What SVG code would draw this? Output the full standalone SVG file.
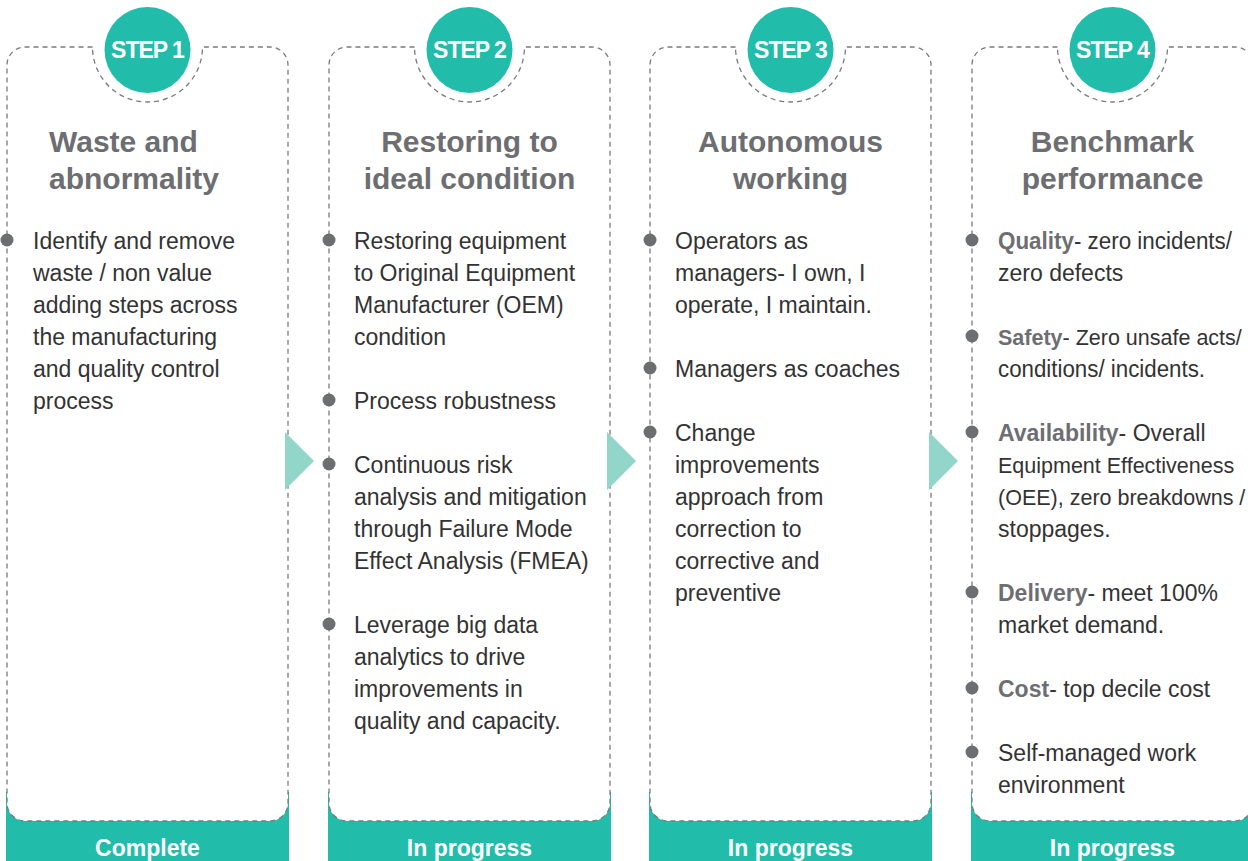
<svg xmlns="http://www.w3.org/2000/svg" width="1248" height="861" viewBox="0 0 1248 861">
<style>
.card{fill:#fff;stroke:#7a7a7c;stroke-width:1.3;stroke-dasharray:5 4}
.band{fill:#22bcaa}
.circ{fill:#22bcaa}
.step{font-family:"Liberation Sans",Arial,sans-serif;font-weight:bold;font-size:23px;fill:#fff;text-anchor:middle;letter-spacing:-1px}
.title{font-family:"Liberation Sans",Arial,sans-serif;font-weight:bold;font-size:30px;fill:#6d6e71}
.mid{text-anchor:middle}
.body{font-family:"Liberation Sans",Arial,sans-serif;font-size:23px;fill:#333}
.sm{font-size:21.5px}
.b{font-weight:bold;fill:#6d6e71}
.dot{fill:#6d6e71}
.status{font-family:"Liberation Sans",Arial,sans-serif;font-weight:bold;font-size:23px;fill:#fff;text-anchor:middle}
.arrow{fill:#92d5c9}
</style>
<rect width="1248" height="861" fill="#fff"/>

<g id="step1">
<rect class="band" x="6" y="792" width="283" height="69"/>
<path class="card" d="M92.5,47 H25 A18,18 0 0 0 7,65 V803 A18,18 0 0 0 25,821 H270 A18,18 0 0 0 288,803 V65 A18,18 0 0 0 270,47 H202.5 A55,55 0 1 1 92.5,47 Z"/>
<circle class="circ" cx="147.5" cy="50" r="43"/>
<text class="step" x="147.5" y="58">STEP 1</text>
<text class="title" x="49" y="152">Waste and</text>
<text class="title" x="49" y="189">abnormality</text>
<circle class="dot" cx="7" cy="240" r="6.5"/>
<text class="body"><tspan x="33" y="248.5">Identify and remove</tspan><tspan x="33" y="280.5">waste / non value</tspan><tspan x="33" y="312.5">adding steps across</tspan><tspan x="33" y="344.5">the manufacturing</tspan><tspan x="33" y="376.5">and quality control</tspan><tspan x="33" y="408.5">process</tspan></text>
<text class="status" x="147.5" y="856">Complete</text>
</g>

<g id="step2">
<rect class="band" x="328" y="792" width="283" height="69"/>
<path class="card" d="M414.5,47 H347 A18,18 0 0 0 329,65 V803 A18,18 0 0 0 347,821 H592 A18,18 0 0 0 610,803 V65 A18,18 0 0 0 592,47 H524.5 A55,55 0 1 1 414.5,47 Z"/>
<circle class="circ" cx="469.5" cy="50" r="43"/>
<text class="step" x="469.5" y="58">STEP 2</text>
<text class="title mid" x="469.5" y="152">Restoring to</text>
<text class="title mid" x="469.5" y="189">ideal condition</text>
<circle class="dot" cx="329" cy="240" r="6.5"/>
<circle class="dot" cx="329" cy="400" r="6.5"/>
<circle class="dot" cx="329" cy="464" r="6.5"/>
<circle class="dot" cx="329" cy="624" r="6.5"/>
<text class="body"><tspan x="354" y="248.5">Restoring equipment</tspan><tspan x="354" y="280.5">to Original Equipment</tspan><tspan x="354" y="312.5">Manufacturer (OEM)</tspan><tspan x="354" y="344.5">condition</tspan></text>
<text class="body"><tspan x="354" y="408.5">Process robustness</tspan></text>
<text class="body"><tspan x="354" y="472.5">Continuous risk</tspan><tspan x="354" y="504.5">analysis and mitigation</tspan><tspan x="354" y="536.5">through Failure Mode</tspan><tspan x="354" y="568.5">Effect Analysis (FMEA)</tspan></text>
<text class="body"><tspan x="354" y="632.5">Leverage big data</tspan><tspan x="354" y="664.5">analytics to drive</tspan><tspan x="354" y="696.5">improvements in</tspan><tspan x="354" y="728.5">quality and capacity.</tspan></text>
<text class="status" x="469.5" y="856">In progress</text>
</g>

<g id="step3">
<rect class="band" x="649" y="792" width="283" height="69"/>
<path class="card" d="M735.5,47 H668 A18,18 0 0 0 650,65 V803 A18,18 0 0 0 668,821 H913 A18,18 0 0 0 931,803 V65 A18,18 0 0 0 913,47 H845.5 A55,55 0 1 1 735.5,47 Z"/>
<circle class="circ" cx="790.5" cy="50" r="43"/>
<text class="step" x="790.5" y="58">STEP 3</text>
<text class="title mid" x="790.5" y="152">Autonomous</text>
<text class="title mid" x="790.5" y="189">working</text>
<circle class="dot" cx="650" cy="240" r="6.5"/>
<circle class="dot" cx="650" cy="368" r="6.5"/>
<circle class="dot" cx="650" cy="432" r="6.5"/>
<text class="body"><tspan x="675" y="248.5">Operators as</tspan><tspan x="675" y="280.5">managers- I own, I</tspan><tspan x="675" y="312.5">operate, I maintain.</tspan></text>
<text class="body"><tspan x="675" y="376.5">Managers as coaches</tspan></text>
<text class="body"><tspan x="675" y="440.5">Change</tspan><tspan x="675" y="472.5">improvements</tspan><tspan x="675" y="504.5">approach from</tspan><tspan x="675" y="536.5">correction to</tspan><tspan x="675" y="568.5">corrective and</tspan><tspan x="675" y="600.5">preventive</tspan></text>
<text class="status" x="790.5" y="856">In progress</text>
</g>

<g id="step4">
<rect class="band" x="971" y="792" width="283" height="69"/>
<path class="card" d="M1057.5,47 H990 A18,18 0 0 0 972,65 V803 A18,18 0 0 0 990,821 H1235 A18,18 0 0 0 1253,803 V65 A18,18 0 0 0 1235,47 H1167.5 A55,55 0 1 1 1057.5,47 Z"/>
<circle class="circ" cx="1112.5" cy="50" r="43"/>
<text class="step" x="1112.5" y="58">STEP 4</text>
<text class="title mid" x="1112.5" y="152">Benchmark</text>
<text class="title mid" x="1112.5" y="189">performance</text>
<circle class="dot" cx="972" cy="240" r="6.5"/>
<circle class="dot" cx="972" cy="336" r="6.5"/>
<circle class="dot" cx="972" cy="432" r="6.5"/>
<circle class="dot" cx="972" cy="592" r="6.5"/>
<circle class="dot" cx="972" cy="688" r="6.5"/>
<circle class="dot" cx="972" cy="752" r="6.5"/>
<text class="body" x="998" y="248.5" textLength="234" lengthAdjust="spacingAndGlyphs"><tspan class="b">Quality</tspan>- zero incidents/</text>
<text class="body" x="998" y="280.5">zero defects</text>
<text class="body sm" x="998" y="344.5"><tspan class="b">Safety</tspan>- Zero unsafe acts/</text>
<text class="body" x="998" y="376.5" textLength="207" lengthAdjust="spacingAndGlyphs">conditions/ incidents.</text>
<text class="body" x="998" y="440.5"><tspan class="b">Availability</tspan>- Overall</text>
<text class="body sm" x="998" y="472.5">Equipment Effectiveness</text>
<text class="body sm" x="998" y="504.5">(OEE), zero breakdowns /</text>
<text class="body" x="998" y="536.5">stoppages.</text>
<text class="body" x="998" y="600.5"><tspan class="b">Delivery</tspan>- meet 100%</text>
<text class="body" x="998" y="632.5">market demand.</text>
<text class="body" x="998" y="696.5"><tspan class="b">Cost</tspan>- top decile cost</text>
<text class="body" x="998" y="760.5">Self-managed work</text>
<text class="body" x="998" y="792.5">environment</text>
<text class="status" x="1112.5" y="856">In progress</text>
</g>

<g id="connectors">
<polygon class="arrow" points="285,432 314,461 285,490"/>
<polygon class="arrow" points="607,432 636,461 607,490"/>
<polygon class="arrow" points="929,432 958,461 929,490"/>
</g>
</svg>
